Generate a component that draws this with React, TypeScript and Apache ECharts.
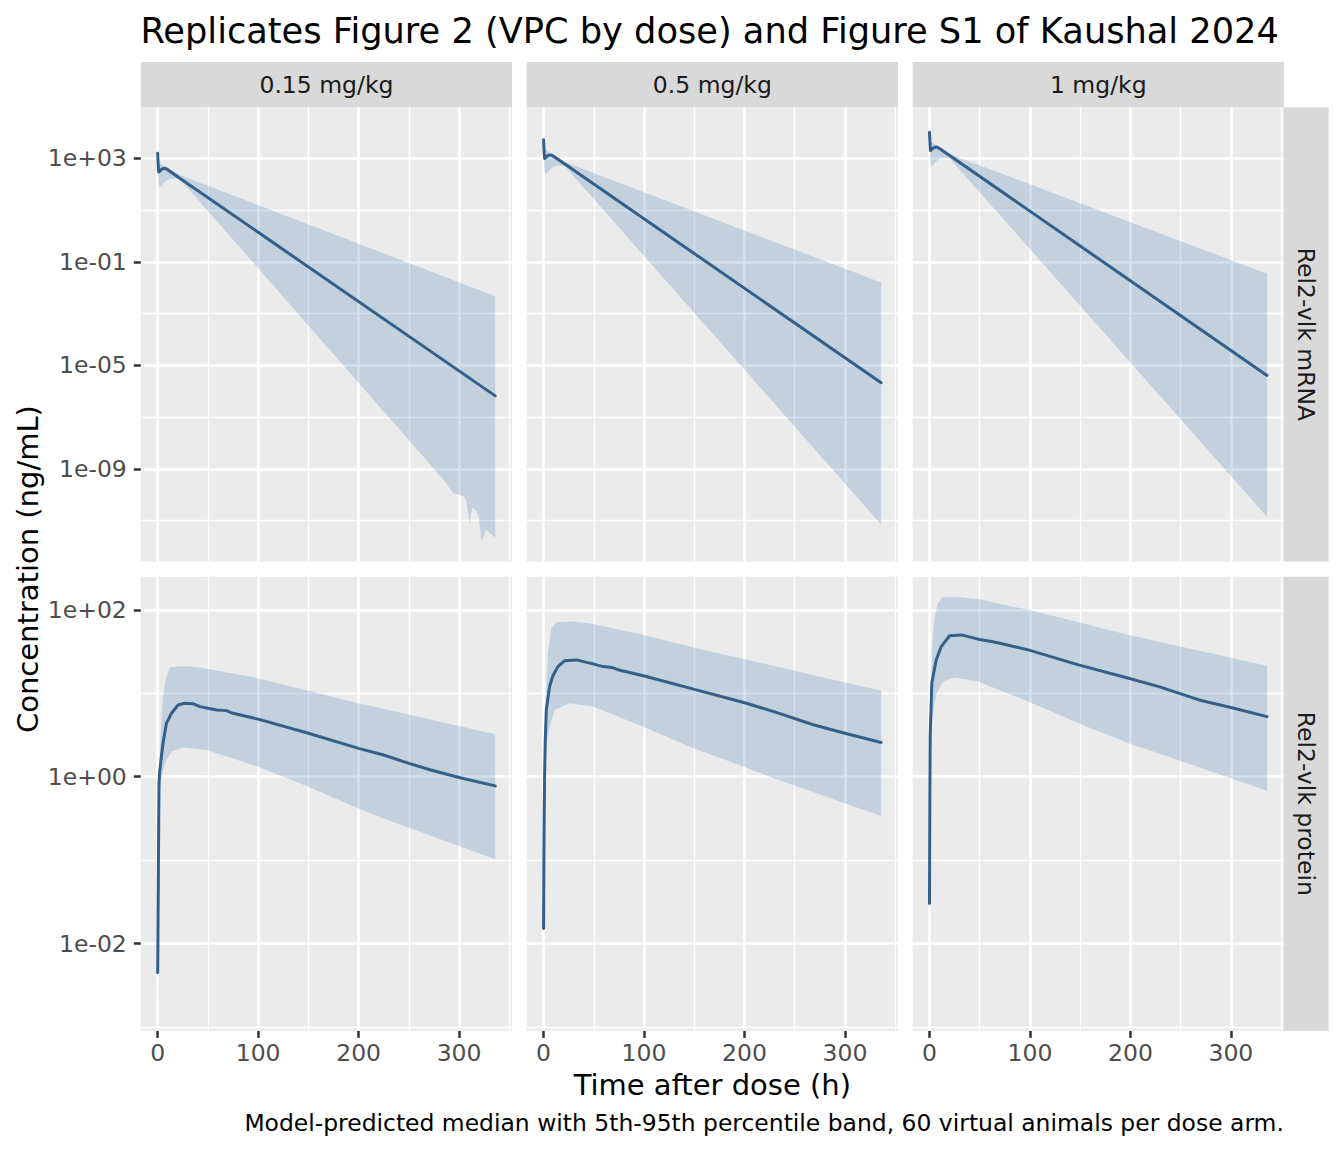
import React, { useEffect, useRef } from "react";
import * as echarts from "echarts";

// ---------------- Data (log10 of concentration, ng/mL) ----------------
const doseLabels = ["0.15 mg/kg", "0.5 mg/kg", "1 mg/kg"];
const analyteLabels = ["Rel2-vlk mRNA", "Rel2-vlk protein"];
const xTicks = [0, 100, 200, 300];
const xMinorTicks = [50, 150, 250, 350];
const yTicksMrna = [-9, -5, -1, 3];
const yMinorMrna = [-11, -7, -3, 1];
const yTicksProt = [-2, 0, 2];
const yMinorProt = [-3, -1, 1];
const timeRange = [0, 336];

// mRNA, 0.15 mg/kg
const mrna015MedT = [0, 0.5, 1, 2, 4, 6, 8, 11, 15, 22, 336];
const mrna015Med = [3.19, 2.75, 2.47, 2.5, 2.58, 2.61, 2.6, 2.53, 2.42, 2.23, -6.18];
const mrna015HiT = [0, 0.5, 1, 2, 4, 6, 8, 11, 15, 22, 336];
const mrna015Hi = [3.35, 3.1, 2.95, 2.85, 2.75, 2.7, 2.66, 2.6, 2.5, 2.35, -2.33];
const mrna015LoT = [0, 0.5, 1, 2, 4, 6, 8, 11, 15, 22, 267, 275.6, 285.6, 294, 299, 305, 307.3, 310.6, 313, 316.3, 319.6, 322.3, 327.3, 332.3, 336];
const mrna015Lo = [3.05, 2.3, 2.0, 1.88, 1.95, 2.05, 2.12, 2.18, 2.21, 2.2, -8.64, -9.03, -9.48, -9.92, -9.99, -10.06, -10.25, -11.15, -10.5, -10.57, -10.83, -11.78, -11.34, -11.53, -11.66];

// mRNA, 0.5 mg/kg
const mrna05MedT = [0, 0.5, 1, 2, 4, 6, 8, 11, 15, 336];
const mrna05Med = [3.71, 3.27, 2.99, 3.02, 3.1, 3.13, 3.12, 3.05, 2.94, -5.67];
const mrna05HiT = [0, 0.5, 1, 2, 4, 6, 8, 11, 15, 21, 336];
const mrna05Hi = [3.87, 3.6, 3.45, 3.35, 3.27, 3.22, 3.18, 3.11, 3.0, 2.85, -1.8];
const mrna05LoT = [0, 0.5, 1, 2, 4, 6, 8, 11, 15, 21, 336];
const mrna05Lo = [3.55, 2.85, 2.52, 2.39, 2.45, 2.55, 2.62, 2.68, 2.72, 2.7, -11.15];

// mRNA, 1 mg/kg
const mrna1MedT = [0, 0.5, 1, 2, 4, 6, 8, 11, 15, 336];
const mrna1Med = [4.0, 3.58, 3.3, 3.33, 3.4, 3.43, 3.42, 3.35, 3.24, -5.39];
const mrna1HiT = [0, 0.5, 1, 2, 4, 6, 8, 11, 15, 20, 336];
const mrna1Hi = [4.17, 3.9, 3.77, 3.66, 3.57, 3.52, 3.48, 3.41, 3.3, 3.16, -1.46];
const mrna1LoT = [0, 0.5, 1, 2, 4, 6, 8, 11, 15, 20, 336];
const mrna1Lo = [3.85, 3.15, 2.82, 2.68, 2.75, 2.85, 2.92, 2.98, 3.02, 3.0, -10.85];

// protein, 0.15 mg/kg
const prot015MedT = [0, 0.7, 1.3, 2, 3.7, 5.3, 8.7, 13.7, 20.3, 27, 35, 42, 50, 59, 65, 69, 75, 100, 150, 200, 225, 250, 272, 300, 336];
const prot015Med = [-2.35, -1.12, -0.08, 0.06, 0.24, 0.4, 0.64, 0.76, 0.86, 0.88, 0.875, 0.84, 0.82, 0.8, 0.795, 0.79, 0.76, 0.69, 0.52, 0.34, 0.26, 0.16, 0.08, -0.01, -0.11];
const prot015HiT = [0, 0.7, 1.3, 2.5, 3.7, 5.3, 8.7, 12, 20, 30, 42, 100, 200, 336];
const prot015Hi = [-2.25, -0.9, 0.1, 0.4, 0.68, 0.96, 1.2, 1.31, 1.32, 1.325, 1.31, 1.18, 0.88, 0.51];
const prot015LoT = [0, 0.7, 1.3, 2.5, 3.7, 5.3, 8.7, 13.7, 25, 48.7, 100, 150, 200, 225, 336];
const prot015Lo = [-2.8, -1.35, -0.42, -0.15, -0.02, 0.08, 0.2, 0.3, 0.35, 0.32, 0.12, -0.12, -0.38, -0.5, -0.99];

// protein, 0.5 mg/kg
const prot05MedT = [0, 0.5, 1, 1.7, 2.7, 6, 9.3, 14.3, 21, 32.7, 42.7, 50, 59.3, 67.7, 75, 99.3, 149.3, 199.3, 229.3, 269.3, 300, 336];
const prot05Med = [-1.82, -0.6, 0.0, 0.45, 0.8, 1.08, 1.21, 1.32, 1.39, 1.4, 1.37, 1.35, 1.32, 1.31, 1.28, 1.21, 1.05, 0.89, 0.78, 0.62, 0.52, 0.41];
const prot05HiT = [0, 0.5, 1, 2, 4.3, 7.7, 12.7, 30, 49.3, 99.3, 149.3, 199.3, 336];
const prot05Hi = [-1.72, -0.3, 0.4, 0.88, 1.48, 1.78, 1.85, 1.86, 1.83, 1.7, 1.55, 1.41, 1.03];
const prot05LoT = [0, 0.5, 1, 2.7, 6, 11, 26, 49.3, 99.3, 149.3, 199.3, 229.3, 336];
const prot05Lo = [-2.2, -0.95, -0.35, 0.36, 0.6, 0.8, 0.88, 0.84, 0.6, 0.34, 0.12, -0.02, -0.47];

// protein, 1 mg/kg
const prot1MedT = [0, 0.35, 0.7, 2.3, 6.7, 11.7, 20, 31.7, 41.7, 50, 61.7, 70, 98.3, 148.3, 198.3, 228.3, 268.3, 300, 336];
const prot1Med = [-1.52, -0.3, 0.48, 1.12, 1.4, 1.56, 1.69, 1.7, 1.67, 1.645, 1.62, 1.6, 1.52, 1.34, 1.18, 1.08, 0.92, 0.83, 0.72];
const prot1HiT = [0, 0.5, 1, 2, 3.3, 5, 8.3, 13.3, 30, 48.3, 98.3, 148.3, 198.3, 336];
const prot1Hi = [-1.42, 0.4, 0.9, 1.3, 1.68, 1.9, 2.08, 2.15, 2.15, 2.13, 2.0, 1.85, 1.7, 1.33];
const prot1LoT = [0, 0.5, 1, 2.3, 6.7, 13.3, 25, 48.3, 98.3, 148.3, 198.3, 228.3, 336];
const prot1Lo = [-1.9, -0.6, 0.05, 0.68, 0.98, 1.14, 1.19, 1.14, 0.9, 0.64, 0.4, 0.28, -0.17];

type Panel = { medT: number[]; med: number[]; hiT: number[]; hi: number[]; loT: number[]; lo: number[] };

const panels: Panel[][] = [
  [
    { medT: mrna015MedT, med: mrna015Med, hiT: mrna015HiT, hi: mrna015Hi, loT: mrna015LoT, lo: mrna015Lo },
    { medT: mrna05MedT, med: mrna05Med, hiT: mrna05HiT, hi: mrna05Hi, loT: mrna05LoT, lo: mrna05Lo },
    { medT: mrna1MedT, med: mrna1Med, hiT: mrna1HiT, hi: mrna1Hi, loT: mrna1LoT, lo: mrna1Lo },
  ],
  [
    { medT: prot015MedT, med: prot015Med, hiT: prot015HiT, hi: prot015Hi, loT: prot015LoT, lo: prot015Lo },
    { medT: prot05MedT, med: prot05Med, hiT: prot05HiT, hi: prot05Hi, loT: prot05LoT, lo: prot05Lo },
    { medT: prot1MedT, med: prot1Med, hiT: prot1HiT, hi: prot1Hi, loT: prot1LoT, lo: prot1Lo },
  ],
];
const rowMajor = [yTicksMrna, yTicksProt];
const rowMinor = [yMinorMrna, yMinorProt];

// ---------------- Layout / style ----------------
const FONT = '"DejaVu Sans", Verdana, sans-serif';
const BAND_FILL = "rgba(70,130,180,0.25)";
const LINE_COLOR = "#32608B";
const PANEL_LEFT = 140.8;
const COL_PITCH = 385.9;
const PANEL_W = 371.3;
const ROW_TOPS = [107.3, 576.7];
const PANEL_H = 454.2;
const STRIP_TOP = 62;
const STRIP_W = 44.7;

function expand(min: number, max: number): [number, number] {
  const d = (max - min) * 0.05;
  return [min - d, max + d];
}

function rowLimits(row: Panel[]): [number, number] {
  let lo = Infinity;
  let hi = -Infinity;
  row.forEach((p) => {
    [p.med, p.hi, p.lo].forEach((arr) =>
      arr.forEach((v) => {
        lo = Math.min(lo, v);
        hi = Math.max(hi, v);
      })
    );
  });
  return expand(lo, hi);
}

const expLabel = (v: number) => {
  const e = Math.round(v);
  const a = Math.abs(e);
  return "1e" + (e < 0 ? "-" : "+") + (a < 10 ? "0" : "") + a;
};

function buildOption() {
  const [xMin, xMax] = expand(timeRange[0], timeRange[1]);
  const grid: any[] = [];
  const xAxis: any[] = [];
  const yAxis: any[] = [];
  const series: any[] = [];
  const graphic: any[] = [];

  for (let r = 0; r < 2; r++) {
    const [yMin, yMax] = rowLimits(panels[r]);
    for (let c = 0; c < 3; c++) {
      const g = r * 3 + c;
      const p = panels[r][c];
      grid.push({
        left: PANEL_LEFT + c * COL_PITCH,
        top: ROW_TOPS[r],
        width: PANEL_W,
        height: PANEL_H,
        show: true,
        backgroundColor: "#EBEBEB",
        borderWidth: 0,
        containLabel: false,
        outerBoundsMode: "none",
      });
      const showX = r === 1;
      const showY = c === 0;
      xAxis.push({
        type: "value",
        gridIndex: g,
        min: xMin,
        max: xMax,
        position: "bottom",
        axisLine: { show: false, onZero: false },
        axisTick: {
          show: showX,
          length: 7,
          customValues: xTicks,
          lineStyle: { color: "#333333", width: 2.5 },
        },
        axisLabel: {
          show: showX,
          customValues: xTicks,
          color: "#4D4D4D",
          fontSize: 23.5,
          fontFamily: FONT,
          margin: 10,
          formatter: (v: number) => String(Math.round(v)),
        },
        splitLine: { show: true, lineStyle: { color: "#FFFFFF", width: 2.7 } },
      });
      xAxis.push({
        type: "value",
        gridIndex: g,
        min: xMin,
        max: xMax,
        position: "bottom",
        axisLine: { show: false, onZero: false },
        axisTick: { show: false, customValues: xMinorTicks },
        axisLabel: { show: false, customValues: xMinorTicks },
        splitLine: { show: true, lineStyle: { color: "#FFFFFF", width: 1.35 } },
      });
      yAxis.push({
        type: "value",
        gridIndex: g,
        min: yMin,
        max: yMax,
        position: "left",
        axisLine: { show: false, onZero: false },
        axisTick: {
          show: showY,
          length: 7,
          customValues: rowMajor[r],
          lineStyle: { color: "#333333", width: 2.5 },
        },
        axisLabel: {
          show: showY,
          customValues: rowMajor[r],
          color: "#4D4D4D",
          fontSize: 23.5,
          fontFamily: FONT,
          margin: 14,
          formatter: expLabel,
        },
        splitLine: { show: true, lineStyle: { color: "#FFFFFF", width: 2.7 } },
      });
      yAxis.push({
        type: "value",
        gridIndex: g,
        min: yMin,
        max: yMax,
        position: "left",
        axisLine: { show: false, onZero: false },
        axisTick: { show: false, customValues: rowMinor[r] },
        axisLabel: { show: false, customValues: rowMinor[r] },
        splitLine: { show: true, lineStyle: { color: "#FFFFFF", width: 1.35 } },
      });

      series.push({
        type: "custom",
        xAxisIndex: 2 * g,
        yAxisIndex: 2 * g,
        clip: true,
        silent: true,
        z: 2,
        data: p.hiT.map((t, i) => [t, p.hi[i]]),
        encode: { x: 0, y: 1 },
        renderItem: (params: any, api: any) => {
          if (params.dataIndex !== 0) return null;
          const pts: number[][] = [];
          for (let i = 0; i < p.hiT.length; i++) pts.push(api.coord([p.hiT[i], p.hi[i]]));
          for (let i = p.loT.length - 1; i >= 0; i--) pts.push(api.coord([p.loT[i], p.lo[i]]));
          return { type: "polygon", shape: { points: pts }, style: { fill: BAND_FILL } };
        },
      });
      series.push({
        type: "line",
        xAxisIndex: 2 * g,
        yAxisIndex: 2 * g,
        data: p.medT.map((t, i) => [t, p.med[i]]),
        symbol: "none",
        showSymbol: false,
        silent: true,
        clip: true,
        z: 3,
        lineStyle: { color: LINE_COLOR, width: 3, join: "round", cap: "round" },
        itemStyle: { color: LINE_COLOR },
      });
    }
  }

  // column strips
  for (let c = 0; c < 3; c++) {
    const x = PANEL_LEFT + c * COL_PITCH;
    graphic.push({
      type: "rect",
      shape: { x, y: STRIP_TOP, width: PANEL_W, height: ROW_TOPS[0] - STRIP_TOP },
      style: { fill: "#D9D9D9" },
      silent: true,
    });
    graphic.push({
      type: "text",
      x: x + PANEL_W / 2,
      y: (STRIP_TOP + ROW_TOPS[0]) / 2,
      silent: true,
      style: {
        text: doseLabels[c],
        fill: "#1A1A1A",
        fontSize: 23.5,
        fontFamily: FONT,
        align: "center",
        verticalAlign: "middle",
      },
    });
  }
  // row strips
  const stripX = PANEL_LEFT + 2 * COL_PITCH + PANEL_W;
  for (let r = 0; r < 2; r++) {
    graphic.push({
      type: "rect",
      shape: { x: stripX, y: ROW_TOPS[r], width: STRIP_W, height: PANEL_H },
      style: { fill: "#D9D9D9" },
      silent: true,
    });
    graphic.push({
      type: "text",
      x: stripX + STRIP_W / 2,
      y: ROW_TOPS[r] + PANEL_H / 2,
      rotation: -Math.PI / 2,
      silent: true,
      style: {
        text: analyteLabels[r],
        fill: "#1A1A1A",
        fontSize: 23.5,
        fontFamily: FONT,
        align: "center",
        verticalAlign: "middle",
      },
    });
  }
  // title
  graphic.push({
    type: "text",
    x: 140.5,
    y: 30,
    silent: true,
    style: {
      text: "Replicates Figure 2 (VPC by dose) and Figure S1 of Kaushal 2024",
      fill: "#000000",
      fontSize: 35.2,
      fontFamily: FONT,
      align: "left",
      verticalAlign: "middle",
    },
  });
  // axis titles
  graphic.push({
    type: "text",
    x: PANEL_LEFT + (2 * COL_PITCH + PANEL_W) / 2,
    y: 1085,
    silent: true,
    style: {
      text: "Time after dose (h)",
      fill: "#000000",
      fontSize: 29,
      fontFamily: FONT,
      align: "center",
      verticalAlign: "middle",
    },
  });
  graphic.push({
    type: "text",
    x: 27.5,
    y: (ROW_TOPS[0] + ROW_TOPS[1] + PANEL_H) / 2,
    rotation: Math.PI / 2,
    silent: true,
    style: {
      text: "Concentration (ng/mL)",
      fill: "#000000",
      fontSize: 29,
      fontFamily: FONT,
      align: "center",
      verticalAlign: "middle",
    },
  });
  // caption
  graphic.push({
    type: "text",
    x: stripX,
    y: 1123,
    silent: true,
    style: {
      text: "Model-predicted median with 5th-95th percentile band, 60 virtual animals per dose arm.",
      fill: "#000000",
      fontSize: 23.45,
      fontFamily: FONT,
      align: "right",
      verticalAlign: "middle",
    },
  });

  return {
    animation: false,
    backgroundColor: "#FFFFFF",
    textStyle: { fontFamily: FONT },
    grid,
    xAxis,
    yAxis,
    series,
    graphic,
  };
}

export default function App() {
  const ref = useRef<HTMLDivElement>(null);
  useEffect(() => {
    if (!ref.current) return;
    const chart = echarts.init(ref.current, undefined, { renderer: "svg" });
    chart.setOption(buildOption() as any);
    return () => chart.dispose();
  }, []);
  return (
    <div
      ref={ref}
      style={{ position: "absolute", left: 0, top: 0, width: 1344, height: 1152, background: "#FFFFFF" }}
    />
  );
}
